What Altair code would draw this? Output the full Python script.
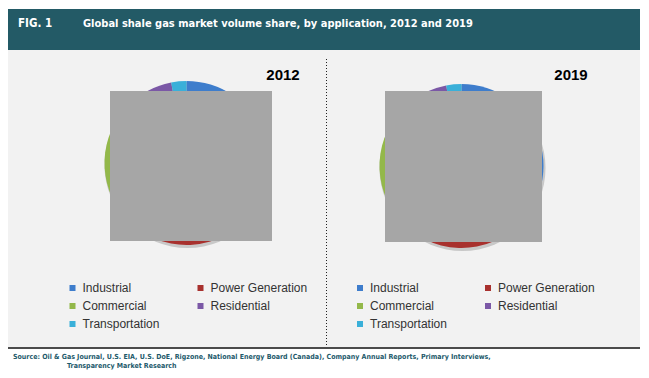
import altair as alt
import pandas as pd

# ---- data ----
categories = ["Industrial", "Power Generation", "Commercial", "Residential", "Transportation"]
share_2012 = [38, 30, 24, 5, 3]
share_2019 = [40, 28, 25, 4, 3]
colors = ["#3E7DCC", "#A8312E", "#93B84A", "#7B58A6", "#3AB0D9"]

fig_label = "FIG. 1"
title_text = "Global shale gas market volume share, by application, 2012 and 2019"
source_line1 = "Source: Oil & Gas Journal, U.S. EIA, U.S. DoE, Rigzone, National Energy Board (Canada), Company Annual Reports, Primary Interviews,"
source_line2 = "Transparency Market Research"

rows = []
for i, c in enumerate(categories):
    rows.append({"year": 2012, "app": c, "share": share_2012[i], "order": i})
    rows.append({"year": 2019, "app": c, "share": share_2019[i], "order": i})
pie_df = pd.DataFrame(rows)
one = pd.DataFrame({"k": [0]})

W, H = 633, 362
COND = "'DejaVu Sans Condensed', 'Liberation Sans', sans-serif"

base = alt.Chart(one)

header = base.mark_rect(color="#235A66").encode(
    x=alt.value(0), x2=alt.value(632), y=alt.value(1), y2=alt.value(42))
panel = base.mark_rect(color="#F2F2F2").encode(
    x=alt.value(0), x2=alt.value(632), y=alt.value(42), y2=alt.value(339))
sep = base.mark_rule(color="#111111", strokeWidth=1.5).encode(
    x=alt.value(0), x2=alt.value(632), y=alt.value(340))
divider = base.mark_rule(color="#222222", strokeWidth=1, strokeDash=[1, 2]).encode(
    x=alt.value(318.5), y=alt.value(51), y2=alt.value(338))

fig_t = base.mark_text(text=fig_label, font=COND, fontSize=11.5, fontWeight="bold",
                       color="white", align="left", baseline="alphabetic").encode(
    x=alt.value(10), y=alt.value(19))
title_t = base.mark_text(text=title_text, font=COND, fontSize=11, fontWeight="bold",
                         color="white", align="left", baseline="alphabetic").encode(
    x=alt.value(75), y=alt.value(19))
yr1 = base.mark_text(text="2012", font="Liberation Sans", fontSize=15, fontWeight="bold",
                     color="black", align="center", baseline="middle").encode(
    x=alt.value(275), y=alt.value(67))
yr2 = base.mark_text(text="2019", font="Liberation Sans", fontSize=15, fontWeight="bold",
                     color="black", align="center", baseline="middle").encode(
    x=alt.value(563), y=alt.value(67))
src1 = base.mark_text(text=source_line1, font=COND, fontSize=7, fontWeight="bold",
                      color="#1D5A6B", align="left", baseline="alphabetic").encode(
    x=alt.value(5), y=alt.value(351))
src2 = base.mark_text(text=source_line2, font=COND, fontSize=7, fontWeight="bold",
                      color="#1D5A6B", align="left", baseline="alphabetic").encode(
    x=alt.value(59), y=alt.value(360))

shadow1 = base.mark_arc(theta=0, theta2=6.2832, radius=83, color="#C8C8C8").encode(
    x=alt.value(179.5), y=alt.value(157))
shadow2 = base.mark_arc(theta=0, theta2=6.2832, radius=83, color="#C8C8C8").encode(
    x=alt.value(454.5), y=alt.value(160))


def legend(lx):
    return alt.Legend(title=None, orient="none", legendX=lx, legendY=274, columns=2,
                      direction="horizontal",
                      symbolType="square", symbolSize=36, symbolStrokeWidth=0,
                      labelFont="Liberation Sans", labelFontSize=12, labelColor="#333333",
                      labelOffset=4, columnPadding=35, rowPadding=6, padding=0)


pie1 = alt.Chart(pie_df).transform_filter(alt.datum.year == 2012).mark_arc(radius=82).encode(
    theta=alt.Theta("share:Q", stack=True),
    order=alt.Order("order:Q"),
    color=alt.Color("app:N", scale=alt.Scale(domain=categories, range=colors), legend=legend(58.5)),
    x=alt.value(178.5), y=alt.value(155),
)
pie2 = alt.Chart(pie_df).transform_filter(alt.datum.year == 2019).mark_arc(radius=82).encode(
    theta=alt.Theta("share:Q", stack=True),
    order=alt.Order("order:Q"),
    color=alt.Color("app:N", scale=alt.Scale(domain=categories, range=colors), legend=legend(346)),
    x=alt.value(453.5), y=alt.value(158),
)

box1 = base.mark_rect(color="#A6A6A6").encode(
    x=alt.value(102), x2=alt.value(264), y=alt.value(83), y2=alt.value(233))
box2 = base.mark_rect(color="#A6A6A6").encode(
    x=alt.value(377), x2=alt.value(534), y=alt.value(83), y2=alt.value(234))

chart = alt.layer(
    header, panel, sep, divider, fig_t, title_t, yr1, yr2, src1, src2,
    shadow1, shadow2, pie1, pie2, box1, box2,
).resolve_scale(color="independent", theta="independent").properties(
    width=W, height=H, autosize=alt.AutoSizeParams(type="none"), padding=0,
    background="white",
).configure_view(stroke=None)

chart.save("out.html", embed_options={"renderer": "svg", "actions": False})
